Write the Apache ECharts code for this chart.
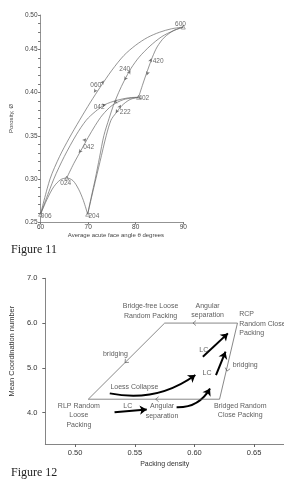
<!DOCTYPE html>
<html>
<head>
<meta charset="utf-8">
<script src="https://cdn.jsdelivr.net/npm/echarts@6/dist/echarts.min.js"></script>
</head>
<body style="margin:0;background:#fff">
<div id="container" style="width:284px;height:489px"></div>
<script type="text/javascript">
// ---- Figure 11 : porosity vs average acute face angle ----
var curve060 = [[60,0.259],[62,0.300],[64,0.326],[66,0.347],[68.2,0.368],[70.5,0.389],[72.5,0.406],[75,0.426],[77.5,0.443],[80,0.455],[82.5,0.464],[85,0.470],[87.5,0.474],[90,0.476]];
var curve042a = [[60,0.259],[62.8,0.300],[65,0.326],[67.5,0.351],[69.6,0.368],[71.5,0.378],[73.5,0.386],[76,0.391],[78.5,0.394],[80.6,0.3946]];
var curveArc = [[60,0.259],[61.5,0.278],[62.8,0.291],[64.2,0.299],[65.5,0.301],[66.8,0.298],[68,0.288],[69,0.275],[69.9,0.259]];
var curve042b = [[65.5,0.301],[67,0.318],[68.5,0.333],[70,0.348],[71.5,0.362],[73,0.374],[75,0.385],[77.5,0.392],[80.6,0.3946]];
var curve222 = [[69.9,0.259],[71.2,0.290],[72.5,0.320],[73.8,0.350],[74.8,0.368],[75.8,0.376],[77.1,0.385],[78.8,0.392],[80.6,0.3946]];
var curve240 = [[69.9,0.259],[70.7,0.280],[71.5,0.300],[72.4,0.325],[73.3,0.350],[74.4,0.370],[75.3,0.385],[76.4,0.400],[77.6,0.414],[79,0.428],[80.7,0.441],[83,0.454],[85.5,0.465],[88,0.472],[90,0.476]];
var curve420 = [[80.6,0.3946],[81.5,0.410],[82.5,0.426],[83.5,0.441],[84.5,0.453],[86,0.464],[88,0.472],[90,0.476]];
var nodes11 = [[60,0.259],[65.5,0.301],[69.9,0.259],[80.6,0.3946],[90,0.476]];
var labels11 = [['600',89.4,0.479],['420',84.7,0.436],['240',77.7,0.4266],['060',71.6,0.4088],['042',72.3,0.3828],['222',77.8,0.3778],['402',81.7,0.3935],['042',70.1,0.3367],['024',65.3,0.2955],['006',61.2,0.2564],['204',71.2,0.2564]];
// small double arrows on the curves: [x, y, rotation]
var arrows11 = [[71.2,0.400,145],[73.3,0.414,-35],[73.8,0.386,-80],[75.3,0.389,100],[75.8,0.376,150],[76.9,0.386,-30],[78.9,0.426,-30],[77.6,0.414,150],[83.3,0.440,-20],[82.3,0.420,160],[68.0,0.330,140],[69.6,0.347,-40]];
var yTicks11 = [0.25,0.30,0.35,0.40,0.45,0.49];

// ---- Figure 12 : mean coordination number vs packing density ----
var outline12 = [[0.511,4.3],[0.575,6.0],[0.636,6.0],[0.621,4.3],[0.511,4.3]];
var outlineArrows12 = [[0.600,6.0,90],[0.5427,5.14,135],[0.6275,4.96,167],[0.5687,4.30,90]];
var thickArrows12 = [
  [[0.529,4.43],[0.6007,4.84]],
  [[0.533,4.01],[0.560,4.07]],
  [[0.585,4.12],[0.613,4.54]],
  [[0.618,4.84],[0.626,5.36]],
  [[0.607,5.25],[0.628,5.77]]
];
var arrowBend12 = [-0.22, 0, -0.3, 0, 0];
var texts12 = [
  ['Bridge-free Loose\nRandom Packing',0.5632,6.27,'center'],
  ['Angular\nseparation',0.611,6.28,'center'],
  ['RCP\nRandom Close\nPacking',0.6375,5.98,'left'],
  ['bridging',0.5337,5.31,'center'],
  ['LC',0.6078,5.40,'center'],
  ['LC',0.6105,4.88,'center'],
  ['bridging',0.6425,5.06,'center'],
  ['Loess Collapse',0.5496,4.58,'center'],
  ['RLP Random\nLoose\nPacking',0.5031,3.94,'center'],
  ['LC',0.5441,4.15,'center'],
  ['Angular\nseparation',0.5728,4.04,'center'],
  ['Bridged Random\nClose Packing',0.6383,4.05,'center']
];
var xTicks12 = [0.50,0.55,0.60,0.65];
var yTicks12 = [4,5,6,7];

var narrow = "'Liberation Sans Narrow', 'Liberation Sans', Arial, sans-serif";
var myChart = echarts.init(document.getElementById('container'));

function curve(data) {
    return {
        type: 'line', xAxisIndex: 0, yAxisIndex: 0, data: data,
        smooth: 0.3, symbol: 'none', silent: true,
        lineStyle: { color: '#666', width: 0.7 }
    };
}

var option = {
    animation: false,
    backgroundColor: '#fff',
    title: [
        { text: 'Figure 11', left: 6, top: 239, textStyle: { fontFamily: 'Liberation Serif', fontSize: 12, fontWeight: 'normal', color: '#222' } },
        { text: 'Figure 12', left: 6, top: 462, textStyle: { fontFamily: 'Liberation Serif', fontSize: 12, fontWeight: 'normal', color: '#222' } }
    ],
    grid: [
        { left: 30.7, right: 100.7, top: 15, bottom: 267 },
        { left: 40.7, right: 0, top: 278.3, bottom: 45 }
    ],
    xAxis: [{
        gridIndex: 0, type: 'value', min: 60, max: 90, interval: 10,
        name: 'Average acute face angle θ degrees', nameLocation: 'middle', nameGap: 10,
        nameTextStyle: { fontFamily: narrow, fontSize: 6, color: '#444', padding: [0, 0, 0, 8] },
        axisLine: { lineStyle: { color: '#777', width: 0.8 } },
        axisTick: { length: 2.5, lineStyle: { color: '#777' } },
        axisLabel: { fontFamily: narrow, fontSize: 6.5, color: '#444', margin: 2 },
        splitLine: { show: false }
    }, {
        gridIndex: 1, type: 'value', min: 0.475, max: 0.675,
        name: 'Packing density', nameLocation: 'middle', nameGap: 17,
        nameTextStyle: { fontFamily: narrow, fontSize: 7, color: '#333' },
        axisLine: { lineStyle: { color: '#666', width: 0.8 } },
        axisTick: { customValues: xTicks12, length: 3, lineStyle: { color: '#666' } },
        axisLabel: { customValues: xTicks12, fontFamily: narrow, fontSize: 7.5, color: '#333', margin: 5,
            formatter: function (v) { return v.toFixed(2); } },
        splitLine: { show: false }
    }],
    yAxis: [{
        gridIndex: 0, type: 'value', min: 0.25, max: 0.49, interval: 0.01,
        name: 'Porosity, Ø', nameLocation: 'middle', nameGap: 14,
        nameTextStyle: { fontFamily: narrow, fontSize: 6, color: '#444', padding: [0, 0, 10, 0] },
        axisLine: { show: true, lineStyle: { color: '#777', width: 0.8 } },
        axisTick: { show: true, length: 2.5, lineStyle: { color: '#777' } },
        axisLabel: { customValues: yTicks11, fontFamily: narrow, fontSize: 6.5, color: '#444', margin: 3,
            formatter: function (v) { return Math.round(v * 100) === 49 ? '0.50' : v.toFixed(2); } },
        splitLine: { show: false }
    }, {
        gridIndex: 1, type: 'value', min: 3.3, max: 7.0,
        name: 'Mean Coordination number', nameLocation: 'middle', nameGap: 24,
        nameTextStyle: { fontFamily: narrow, fontSize: 7.5, color: '#333', padding: [0, 0, 0, 20] },
        axisLine: { show: true, lineStyle: { color: '#666', width: 0.8 } },
        axisTick: { show: true, customValues: yTicks12, length: 3, lineStyle: { color: '#666' } },
        axisLabel: { customValues: yTicks12, fontFamily: narrow, fontSize: 7.5, color: '#333', margin: 8,
            formatter: function (v) { return v.toFixed(1); } },
        splitLine: { show: false }
    }],
    series: [
        curve(curve060), curve(curve042a), curve(curveArc), curve(curve042b),
        curve(curve222), curve(curve240), curve(curve420),
        {
            type: 'scatter', xAxisIndex: 0, yAxisIndex: 0, data: nodes11,
            symbol: 'triangle', symbolSize: 4, silent: true,
            itemStyle: { color: '#fff', borderColor: '#666', borderWidth: 0.7 }
        },
        {
            type: 'scatter', xAxisIndex: 0, yAxisIndex: 0, silent: true,
            data: arrows11.map(function (a) { return { value: [a[0], a[1]], symbolRotate: a[2] }; }),
            symbol: 'arrow', symbolSize: [3, 4],
            itemStyle: { color: '#555' }
        },
        {
            type: 'scatter', xAxisIndex: 0, yAxisIndex: 0, silent: true,
            data: labels11.map(function (l) { return { name: l[0], value: [l[1], l[2]] }; }),
            symbolSize: 0,
            label: { show: true, position: 'inside', formatter: '{b}', fontFamily: narrow, fontSize: 6.5, color: '#444' }
        },
        {
            type: 'line', xAxisIndex: 1, yAxisIndex: 1, data: outline12, symbol: 'none', silent: true,
            lineStyle: { color: '#555', width: 0.7 }
        },
        {
            type: 'scatter', xAxisIndex: 1, yAxisIndex: 1, silent: true,
            data: outlineArrows12.map(function (a) { return { value: [a[0], a[1]], symbolRotate: a[2] }; }),
            symbol: 'path://M0,10 L5,0 L10,10', symbolSize: [5, 3],
            itemStyle: { color: 'rgba(0,0,0,0)', borderColor: '#444', borderWidth: 0.7 }
        },
        {
            type: 'lines', coordinateSystem: 'cartesian2d', xAxisIndex: 1, yAxisIndex: 1, silent: true,
            symbol: ['none', 'arrow'], symbolSize: 7,
            lineStyle: { color: '#000', width: 2, opacity: 1 },
            data: thickArrows12.map(function (c, i) { return { coords: c, lineStyle: { curveness: arrowBend12[i] } }; })
        },
        {
            type: 'scatter', xAxisIndex: 1, yAxisIndex: 1, silent: true,
            data: texts12.map(function (t) { return { name: t[0], value: [t[1], t[2]], label: { align: t[3] } }; }),
            symbolSize: 0,
            label: { show: true, position: 'inside', formatter: '{b}', fontFamily: narrow, fontSize: 7, lineHeight: 9.5, color: '#333' }
        }
    ]
};
myChart.setOption(option);
</script>
</body>
</html>
